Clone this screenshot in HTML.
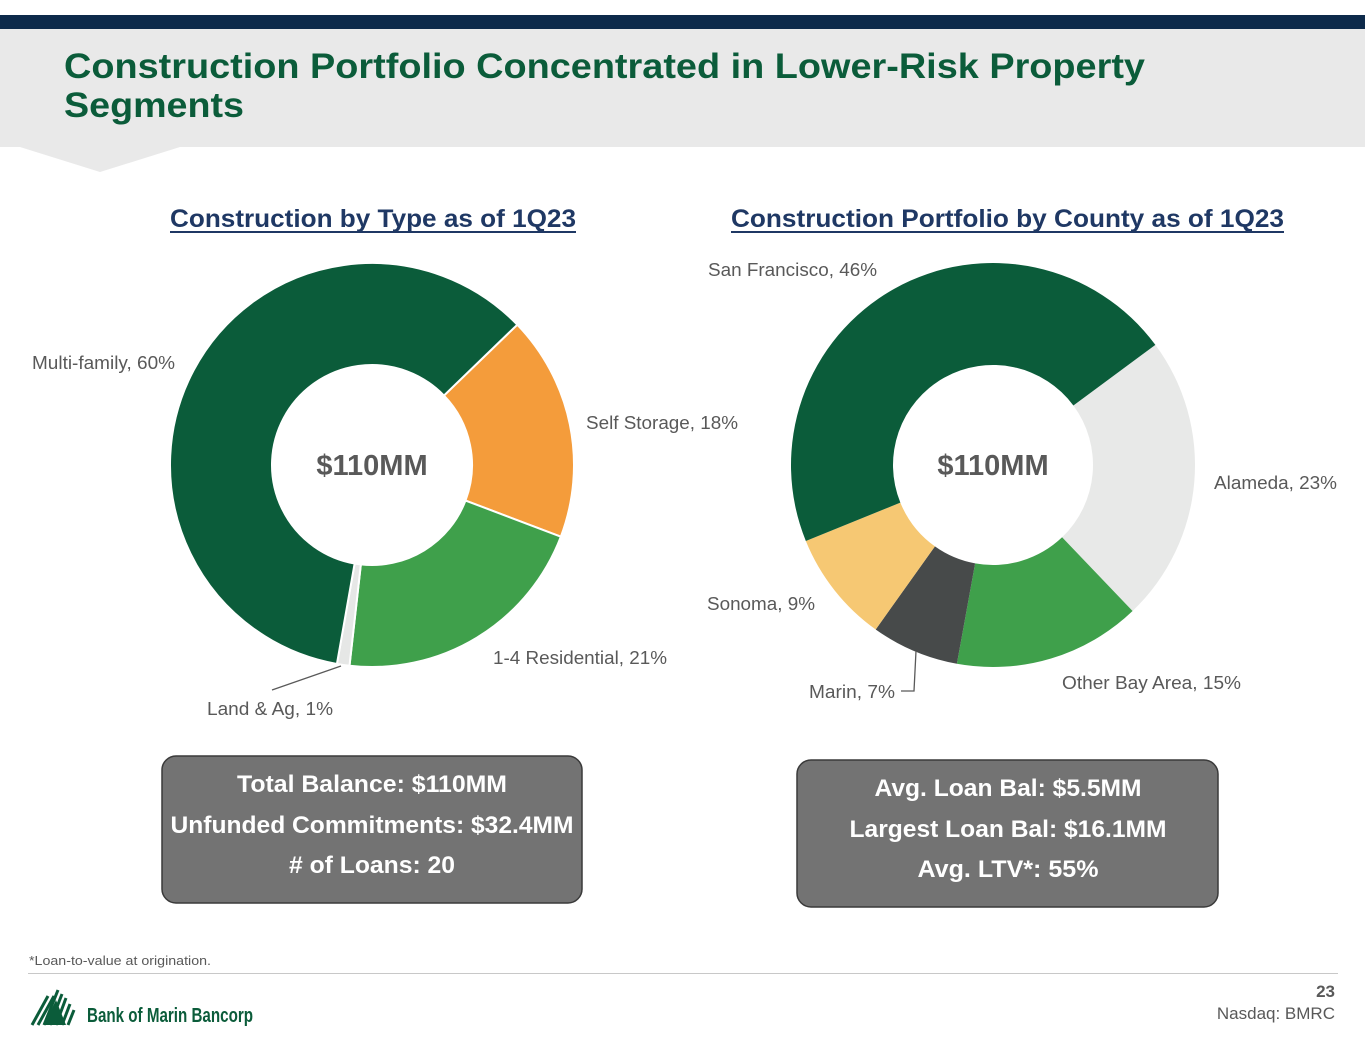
<!DOCTYPE html>
<html><head><meta charset="utf-8"><style>
html,body{margin:0;padding:0;background:#fff;}
svg{display:block;font-family:"Liberation Sans",sans-serif;}
</style></head><body>
<svg width="1365" height="1055" viewBox="0 0 1365 1055">
<rect x="0" y="15" width="1365" height="14" fill="#0d2a4a"/>
<polygon points="0,29 1365,29 1365,147 180,147 100,172 20,147 0,147" fill="#e9e9e9"/>
<text x="64" y="78" font-size="35" font-weight="bold" fill="#0b5c3a" textLength="1081" lengthAdjust="spacingAndGlyphs">Construction Portfolio Concentrated in Lower-Risk Property</text>
<text x="64" y="117" font-size="35" font-weight="bold" fill="#0b5c3a" textLength="180" lengthAdjust="spacingAndGlyphs">Segments</text>

<text x="170" y="227" font-size="25" font-weight="bold" fill="#1f3864" textLength="406" lengthAdjust="spacingAndGlyphs">Construction by Type as of 1Q23</text>
<rect x="170" y="231" width="406" height="2" fill="#1f3864"/>
<text x="731" y="227" font-size="25" font-weight="bold" fill="#1f3864" textLength="553" lengthAdjust="spacingAndGlyphs">Construction Portfolio by County as of 1Q23</text>
<rect x="731" y="231" width="553" height="2" fill="#1f3864"/>

<g id="donut1"></g>
<g id="donut2"></g>

<text x="372" y="475" font-size="29" font-weight="bold" fill="#595959" text-anchor="middle">$110MM</text>
<text x="993" y="475" font-size="29" font-weight="bold" fill="#595959" text-anchor="middle">$110MM</text>

<g font-size="18" fill="#595959">
<text x="32" y="369" textLength="143" lengthAdjust="spacingAndGlyphs">Multi-family, 60%</text>
<text x="586" y="429" textLength="152" lengthAdjust="spacingAndGlyphs">Self Storage, 18%</text>
<text x="493" y="664" textLength="174" lengthAdjust="spacingAndGlyphs">1-4 Residential, 21%</text>
<text x="207" y="715" textLength="126" lengthAdjust="spacingAndGlyphs">Land &amp; Ag, 1%</text>
<text x="708" y="276" textLength="169" lengthAdjust="spacingAndGlyphs">San Francisco, 46%</text>
<text x="1214" y="489" textLength="123" lengthAdjust="spacingAndGlyphs">Alameda, 23%</text>
<text x="1062" y="689" textLength="179" lengthAdjust="spacingAndGlyphs">Other Bay Area, 15%</text>
<text x="809" y="698" textLength="86" lengthAdjust="spacingAndGlyphs">Marin, 7%</text>
<text x="707" y="610" textLength="108" lengthAdjust="spacingAndGlyphs">Sonoma, 9%</text>
</g>
<polyline points="341,666 272,690" fill="none" stroke="#595959" stroke-width="1.3"/>
<polyline points="916,651 914,691 901,691" fill="none" stroke="#595959" stroke-width="1.3"/>

<rect x="162" y="756" width="420" height="147" rx="14" fill="#737373" stroke="#3a3a3a" stroke-width="1.5"/>
<g font-size="24" font-weight="bold" fill="#fff" text-anchor="middle">
<text x="372" y="792" textLength="270" lengthAdjust="spacingAndGlyphs">Total Balance: $110MM</text>
<text x="372" y="833" textLength="403" lengthAdjust="spacingAndGlyphs">Unfunded Commitments: $32.4MM</text>
<text x="372" y="873" textLength="166" lengthAdjust="spacingAndGlyphs"># of Loans: 20</text>
</g>
<rect x="797" y="760" width="421" height="147" rx="14" fill="#737373" stroke="#3a3a3a" stroke-width="1.5"/>
<g font-size="24" font-weight="bold" fill="#fff" text-anchor="middle">
<text x="1008" y="796" textLength="267" lengthAdjust="spacingAndGlyphs">Avg. Loan Bal: $5.5MM</text>
<text x="1008" y="837" textLength="317" lengthAdjust="spacingAndGlyphs">Largest Loan Bal: $16.1MM</text>
<text x="1008" y="877" textLength="181" lengthAdjust="spacingAndGlyphs">Avg. LTV*: 55%</text>
</g>

<text x="29" y="965" font-size="13" fill="#595959" textLength="182" lengthAdjust="spacingAndGlyphs">*Loan-to-value at origination.</text>
<rect x="28" y="973" width="1310" height="1" fill="#c8c8c8"/>
<g>
<g stroke="#0b5c3a" stroke-width="3">
<line x1="32" y1="1025" x2="48" y2="996"/><line x1="38" y1="1025" x2="54" y2="996"/>
<line x1="44" y1="1025" x2="58" y2="990"/><line x1="50" y1="1025" x2="62" y2="994"/>
<line x1="56" y1="1025" x2="66" y2="998"/><line x1="62" y1="1025" x2="70" y2="1004"/>
<line x1="68" y1="1025" x2="74" y2="1010"/>
</g>
<polygon points="44,1025 56,1000 66,1025" fill="#0b5c3a"/>
<text x="87" y="1022" font-size="20" font-weight="bold" fill="#0b5c3a" textLength="166" lengthAdjust="spacingAndGlyphs">Bank of Marin Bancorp</text>
</g>
<text x="1335" y="997" font-size="17" font-weight="bold" fill="#595959" text-anchor="end">23</text>
<text x="1335" y="1019" font-size="17" fill="#595959" text-anchor="end">Nasdaq: BMRC</text>
</svg>
<script>
const typeCategories = ["Self Storage", "1-4 Residential", "Land & Ag", "Multi-family"];
const typeValues = [18, 21, 1, 60];
const typeColors = ["#f49c3b", "#3fa04b", "#e6e7e6", "#0b5c3a"];
const countyCategories = ["Alameda", "Other Bay Area", "Marin", "Sonoma", "San Francisco"];
const countyValues = [23, 15, 7, 9, 46];
const countyColors = ["#e8e9e8", "#3fa04b", "#474a4a", "#f6c873", "#0b5c3a"];

const NS = "http://www.w3.org/2000/svg";
function pt(cx, cy, r, deg) {
  const a = (deg - 90) * Math.PI / 180;
  return [cx + r * Math.cos(a), cy + r * Math.sin(a)];
}
function arcPath(cx, cy, ro, ri, a0, a1) {
  const large = (a1 - a0) > 180 ? 1 : 0;
  const p0 = pt(cx, cy, ro, a0), p1 = pt(cx, cy, ro, a1);
  const q1 = pt(cx, cy, ri, a1), q0 = pt(cx, cy, ri, a0);
  return `M${p0[0]},${p0[1]} A${ro},${ro} 0 ${large} 1 ${p1[0]},${p1[1]} L${q1[0]},${q1[1]} A${ri},${ri} 0 ${large} 0 ${q0[0]},${q0[1]} Z`;
}
function drawDonut(gid, cats, vals, colors, cx, cy, ro, ri, start, stroke) {
  const g = document.getElementById(gid);
  const total = vals.reduce((s, v) => s + v, 0);
  let a = start;
  vals.forEach((v, i) => {
    const sweep = v / total * 360;
    const p = document.createElementNS(NS, "path");
    p.setAttribute("d", arcPath(cx, cy, ro, ri, a, a + sweep));
    p.setAttribute("fill", colors[i]);
    p.setAttribute("stroke", stroke);
    p.setAttribute("stroke-width", "2");
    
    
    g.appendChild(p);
    a += sweep;
  });
}
drawDonut("donut1", typeCategories, typeValues, typeColors, 372, 465, 202, 100, 46, "#ffffff");
drawDonut("donut2", countyCategories, countyValues, countyColors, 993, 465, 202, 100, 53.5, "none");
</script>
</body></html>
